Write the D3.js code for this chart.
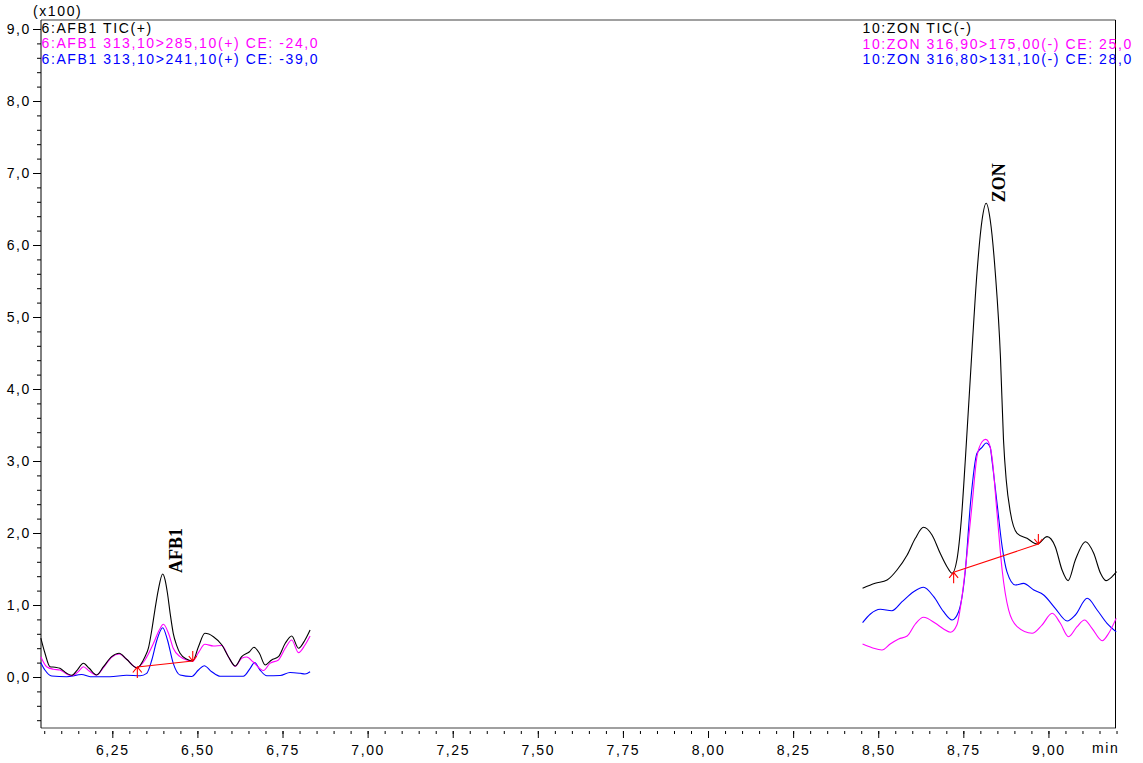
<!DOCTYPE html>
<html>
<head>
<meta charset="utf-8">
<script src="https://cdn.jsdelivr.net/npm/d3@7"></script>
<style>
  html, body { margin: 0; padding: 0; background: #fff; }
  svg { display: block; }
  text { font-family: "Liberation Sans", Arial, sans-serif; font-size: 14px; letter-spacing: 1.6px; }
</style>
</head>
<body>
<svg id="chart" width="1143" height="763"></svg>
<script>
// Retention time (min) and intensity (x100) pairs for each trace.

// AFB1 window, positive mode
const afbTic = [
  [6.040,0.54],[6.052,0.333],[6.067,0.143],[6.082,0.135],[6.096,0.121],[6.116,0.051],[6.131,0.024],
  [6.147,0.097],[6.165,0.190],[6.182,0.121],[6.204,0.028],[6.224,0.143],[6.248,0.282],[6.270,0.329],
  [6.292,0.246],[6.322,0.129],[6.346,0.282],[6.356,0.40],[6.366,0.653],[6.375,0.93],[6.385,1.208],
  [6.398,1.431],[6.405,1.35],[6.412,1.163],[6.420,0.88],[6.429,0.607],[6.439,0.44],[6.449,0.329],
  [6.469,0.246],[6.486,0.222],[6.503,0.421],[6.522,0.607],[6.547,0.560],[6.572,0.444],[6.591,0.282],
  [6.611,0.153],[6.630,0.282],[6.653,0.351],[6.666,0.413],[6.682,0.329],[6.699,0.167],[6.718,0.236],
  [6.738,0.282],[6.758,0.468],[6.777,0.569],[6.797,0.399],[6.816,0.514],[6.831,0.653]
];
const afb285 = [
  [6.040,0.282],[6.057,0.143],[6.077,0.107],[6.096,0.097],[6.116,0.042],[6.131,0.018],[6.150,0.074],
  [6.165,0.143],[6.182,0.083],[6.204,0.028],[6.224,0.129],[6.248,0.274],[6.270,0.319],[6.292,0.246],
  [6.322,0.129],[6.346,0.236],[6.371,0.468],[6.388,0.653],[6.400,0.732],[6.415,0.607],[6.429,0.399],
  [6.449,0.282],[6.469,0.236],[6.486,0.218],[6.503,0.338],[6.522,0.454],[6.547,0.431],[6.572,0.438],
  [6.591,0.282],[6.611,0.146],[6.630,0.260],[6.645,0.278],[6.664,0.208],[6.694,0.090],[6.713,0.190],
  [6.738,0.236],[6.758,0.399],[6.777,0.514],[6.797,0.338],[6.816,0.444],[6.831,0.569]
];
const afb241 = [
  [6.040,0.199],[6.052,0.097],[6.072,0.014],[6.116,0.004],[6.160,0.035],[6.185,0.004],[6.243,0.004],
  [6.292,0.024],[6.332,0.018],[6.351,0.051],[6.366,0.236],[6.381,0.514],[6.398,0.685],[6.412,0.514],
  [6.429,0.190],[6.449,0.028],[6.483,0.007],[6.503,0.097],[6.520,0.157],[6.542,0.074],[6.567,0.010],
  [6.635,0.010],[6.655,0.121],[6.668,0.201],[6.684,0.097],[6.704,0.017],[6.743,0.021],[6.772,0.063],
  [6.802,0.051],[6.816,0.042],[6.831,0.074]
];

// ZON window, negative mode
const zonTic = [
  [8.454,1.232],[8.491,1.301],[8.526,1.347],[8.555,1.486],[8.585,1.694],[8.609,1.926],[8.633,2.079],
  [8.658,1.972],[8.682,1.718],[8.702,1.532],[8.717,1.440],[8.731,1.625],[8.744,2.181],[8.756,3.028],
  [8.776,4.588],[8.790,5.607],[8.805,6.347],[8.817,6.579],[8.829,6.347],[8.844,5.607],[8.859,4.449],
  [8.868,3.292],[8.876,2.736],[8.888,2.292],[8.908,1.996],[8.937,1.926],[8.967,1.847],[8.996,1.949],
  [9.020,1.810],[9.040,1.486],[9.058,1.338],[9.079,1.625],[9.109,1.879],[9.133,1.718],[9.153,1.440],
  [9.169,1.338],[9.187,1.393],[9.200,1.463]
];
const zon175 = [
  [8.454,0.458],[8.482,0.407],[8.511,0.375],[8.535,0.458],[8.560,0.528],[8.585,0.569],[8.609,0.736],
  [8.633,0.829],[8.668,0.746],[8.692,0.667],[8.712,0.621],[8.731,0.722],[8.746,1.115],[8.761,1.718],
  [8.776,2.413],[8.790,3.060],[8.805,3.268],[8.815,3.301],[8.820,3.292],[8.834,3.060],[8.849,2.274],
  [8.864,1.486],[8.883,0.931],[8.908,0.699],[8.952,0.607],[8.981,0.722],[9.011,0.885],[9.035,0.746],
  [9.059,0.560],[9.084,0.699],[9.106,0.792],[9.128,0.676],[9.158,0.504],[9.177,0.607],[9.199,0.815]
];
const zon131 = [
  [8.454,0.754],[8.477,0.875],[8.506,0.940],[8.540,0.921],[8.570,1.046],[8.604,1.185],[8.633,1.246],
  [8.663,1.115],[8.692,0.907],[8.717,0.792],[8.736,0.907],[8.756,1.486],[8.771,2.413],[8.790,3.107],
  [8.805,3.19],[8.817,3.25],[8.829,3.19],[8.834,3.014],[8.849,2.413],[8.864,1.810],[8.878,1.463],
  [8.903,1.278],[8.927,1.301],[8.957,1.208],[8.986,1.139],[9.020,0.954],[9.055,0.778],[9.079,0.861],
  [9.114,1.093],[9.143,0.931],[9.172,0.746],[9.199,0.629]
];

// Integration baselines: [start, end] as [time, intensity]
const afbBaseline = [[6.3235,0.139],[6.4863,0.222]];
const zonBaseline = [[8.7215,1.454],[8.9704,1.847]];

// Peak labels: name, apex time, apex intensity
const peakLabels = [
  ["AFB1", 6.398, 1.431],
  ["ZON", 8.817, 6.579]
];

// Trace headers
const afbLegend = ["6:AFB1 TIC(+)", "6:AFB1 313,10>285,10(+) CE: -24,0", "6:AFB1 313,10>241,10(+) CE: -39,0"];
const zonLegend = ["10:ZON TIC(-)", "10:ZON 316,90>175,00(-) CE: 25,0", "10:ZON 316,80>131,10(-) CE: 28,0"];
const legendColors = ["#000000", "#ff00ff", "#0000ff"];

// Axis ticks
const xMajor = [6.25, 6.50, 6.75, 7.00, 7.25, 7.50, 7.75, 8.00, 8.25, 8.50, 8.75, 9.00];
const yMajor = [0, 1, 2, 3, 4, 5, 6, 7, 8, 9];

const svg = d3.select("#chart");
const frameL = 41, frameR = 1115.5, frameT = 20, frameB = 728;

const x = d3.scaleLinear().domain([6.0405, 9.197]).range([frameL, frameR]);
const y = d3.scaleLinear().domain([-0.7, 9.125]).range([727.4, frameT]);

const fmtX = v => d3.format(".2f")(v).replace(".", ",");
const fmtY = v => d3.format(".1f")(v).replace(".", ",");

// Frame
svg.append("line").attr("x1", frameL).attr("x2", frameR).attr("y1", frameT).attr("y2", frameT)
  .attr("stroke", "#808080").attr("stroke-width", 1.3);
svg.append("line").attr("x1", frameL).attr("x2", frameR + 0.5).attr("y1", frameB).attr("y2", frameB)
  .attr("stroke", "#808080").attr("stroke-width", 1.3);
svg.append("line").attr("x1", frameL).attr("x2", frameL).attr("y1", frameT).attr("y2", frameB)
  .attr("stroke", "#000").attr("stroke-width", 1);
svg.append("line").attr("x1", frameR).attr("x2", frameR).attr("y1", frameT).attr("y2", frameB)
  .attr("stroke", "#000").attr("stroke-width", 1);

// X axis: minor ticks every 0.05 min, labelled ticks every 0.25 min
const xMinor = d3.range(121, 185).map(i => i * 0.05);
const xAxisMinor = d3.axisBottom(x).tickValues(xMinor).tickSize(3).tickFormat("");
const xAxisMajor = d3.axisBottom(x).tickValues(xMajor).tickSize(7).tickPadding(7).tickFormat(fmtX);
[xAxisMinor, xAxisMajor].forEach(ax => {
  const g = svg.append("g").attr("transform", `translate(0,${frameB + 3})`).call(ax);
  g.select(".domain").remove();
  g.selectAll("line").attr("stroke", "#000");
  g.selectAll("text").attr("fill", "#000").style("font-size", "14px")
    .style("font-family", '"Liberation Sans", Arial, sans-serif');
});
svg.append("text").attr("x", 1092).attr("y", 753).attr("fill", "#000").text("min");

// Y axis: minor ticks every 0.2, labelled ticks every 1
const yMinor = d3.range(-3, 46).map(i => i * 0.2);
const yAxisMinor = d3.axisLeft(y).tickValues(yMinor).tickSize(4).tickFormat("");
const yAxisMajor = d3.axisLeft(y).tickValues(yMajor).tickSize(8).tickPadding(2).tickFormat(fmtY);
[yAxisMinor, yAxisMajor].forEach(ax => {
  const g = svg.append("g").attr("transform", `translate(${frameL},0)`).call(ax);
  g.select(".domain").remove();
  g.selectAll("line").attr("stroke", "#000");
  g.selectAll("text").attr("fill", "#000").style("font-size", "14px")
    .style("font-family", '"Liberation Sans", Arial, sans-serif');
});
svg.append("text").attr("x", 33).attr("y", 15.5).attr("fill", "#000").text("(x100)");

// Traces
const line = d3.line().x(d => x(d[0])).y(d => y(d[1])).curve(d3.curveMonotoneX);
const traces = [
  [afb241, "#0000ff"], [afb285, "#ff00ff"], [afbTic, "#000000"],
  [zon131, "#0000ff"], [zon175, "#ff00ff"], [zonTic, "#000000"]
];
traces.forEach(([data, color]) => {
  svg.append("path").datum(data).attr("d", line)
    .attr("fill", "none").attr("stroke", color).attr("stroke-width", 1.1);
});

// Integration baselines with start/end markers
[afbBaseline, zonBaseline].forEach(([s, e]) => {
  const x0 = x(s[0]), y0 = y(s[1]), x1 = x(e[0]), y1 = y(e[1]);
  const g = svg.append("g").attr("stroke", "#ff0000").attr("stroke-width", 1.1).attr("fill", "none");
  g.append("line").attr("x1", x0).attr("y1", y0).attr("x2", x1).attr("y2", y1);
  g.append("path").attr("d", `M${x0},${y0 + 11}L${x0},${y0}M${x0 - 4.5},${y0 + 5.5}L${x0},${y0}L${x0 + 4.5},${y0 + 5.5}`);
  g.append("path").attr("d", `M${x1},${y1 - 10}L${x1},${y1}M${x1 - 4},${y1 - 5}L${x1},${y1}L${x1 + 4},${y1 - 5}`);
});

// Peak names, written upward beside each apex
peakLabels.forEach(([name, t, v]) => {
  const px = x(t) + 19, py = y(v) - 1;
  svg.append("text").attr("transform", `translate(${px},${py}) rotate(-90)`)
    .attr("fill", "#000")
    .style("font-family", '"Liberation Serif", "Times New Roman", serif')
    .style("font-weight", "bold").style("font-size", "18px").style("letter-spacing", "0px")
    .text(name);
});

// Trace headers
afbLegend.forEach((s, i) => {
  svg.append("text").attr("x", 41.5).attr("y", 32.5 + i * 15.5).attr("fill", legendColors[i]).text(s);
});
zonLegend.forEach((s, i) => {
  svg.append("text").attr("x", 862.5).attr("y", 33 + i * 15.5).attr("fill", legendColors[i]).text(s);
});
</script>
</body>
</html>
